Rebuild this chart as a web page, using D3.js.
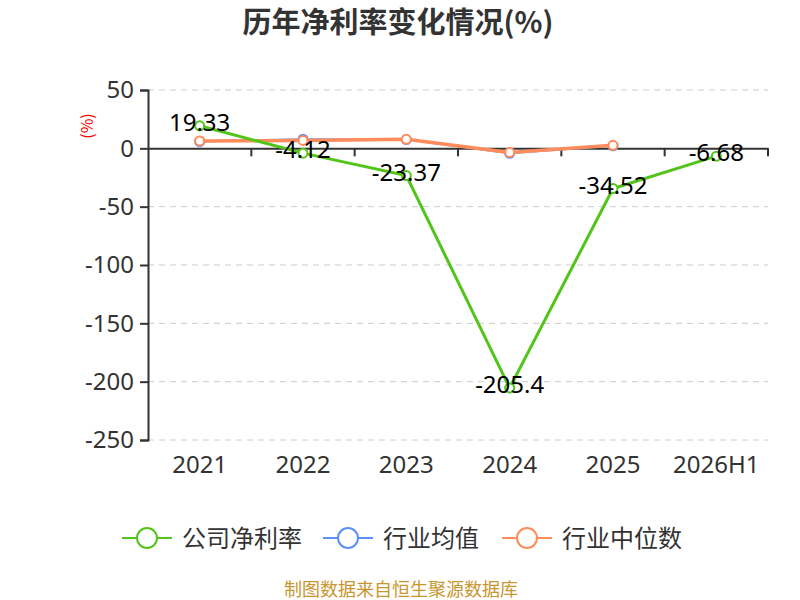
<!DOCTYPE html>
<html lang="zh">
<head>
<meta charset="utf-8">
<title>历年净利率变化情况</title>
<script src="https://d3js.org/d3.v7.min.js"></script>
<style>
  body { margin: 0; background: #fff; }
  text { font-family: "Noto Sans CJK SC", "Noto Sans", sans-serif; }
</style>
</head>
<body>
<div id="chart"></div>
<script>
// data
var years = ["2021", "2022", "2023", "2024", "2025", "2026H1"];
var company = [19.33, -4.12, -23.37, -205.4, -34.52, -6.68];
var industryAvg = [5.8, 7.8, 7.5, -4.3, 2.2, null];
var industryMedian = [6.3, 6.8, 7.7, -3.5, 2.6, null];
var yTicks = [50, 0, -50, -100, -150, -200, -250];
var seriesNames = ["公司净利率", "行业均值", "行业中位数"];
var colors = ["#52c41a", "#5b8ff9", "#ff8c5a"];

var width = 800, height = 600;
var margin = { top: 90, right: 32, bottom: 160, left: 148 };
var numFont = "'Noto Sans', sans-serif";

var svg = d3.select("#chart").append("svg")
  .attr("width", width).attr("height", height);

var x = d3.scaleBand().domain(years)
  .range([margin.left, width - margin.right]);
var y = d3.scaleLinear().domain([-250, 50])
  .range([height - margin.bottom, margin.top]);

// title
svg.append("text")
  .attr("x", 398).attr("y", 33)
  .attr("text-anchor", "middle")
  .attr("font-size", 29).attr("font-weight", "bold")
  .attr("fill", "#333")
  .text("历年净利率变化情况(%)");

// grid lines
svg.append("g").selectAll("line")
  .data(yTicks.filter(function (d) { return d !== 0; }))
  .join("line")
  .attr("x1", margin.left).attr("x2", width - margin.right)
  .attr("y1", function (d) { return y(d); })
  .attr("y2", function (d) { return y(d); })
  .attr("stroke", "#ccc").attr("stroke-dasharray", "6,5");

// y axis
var yAxis = svg.append("g")
  .attr("transform", "translate(" + margin.left + ",0)")
  .call(d3.axisLeft(y).tickValues(yTicks).tickSize(8).tickPadding(6)
    .tickFormat(function (d) { return String(d); }));
yAxis.select(".domain").attr("stroke", "#333").attr("stroke-width", 2);
yAxis.selectAll(".tick line").attr("stroke", "#333").attr("stroke-width", 2);
yAxis.selectAll("text").attr("font-size", 24).attr("fill", "#333")
  .style("font-family", numFont);

svg.append("text")
  .attr("transform", "translate(93,126) rotate(-90)")
  .attr("text-anchor", "middle")
  .attr("font-size", 16).attr("fill", "red")
  .text("(%)");

// x axis at zero
var xAxis = svg.append("g")
  .attr("transform", "translate(0," + y(0) + ")")
  .call(d3.axisBottom(x).tickSize(0).tickFormat(""));
xAxis.select(".domain").attr("stroke", "#333").attr("stroke-width", 2);
svg.append("g").selectAll("line")
  .data(years)
  .join("line")
  .attr("x1", function (d) { return x(d) + x.step(); })
  .attr("x2", function (d) { return x(d) + x.step(); })
  .attr("y1", y(0)).attr("y2", y(0) + 8)
  .attr("stroke", "#333").attr("stroke-width", 2);

svg.append("g").selectAll("text")
  .data(years)
  .join("text")
  .attr("x", function (d) { return x(d) + x.bandwidth() / 2; })
  .attr("y", 473)
  .attr("text-anchor", "middle")
  .attr("font-size", 24).attr("fill", "#333")
  .style("font-family", numFont)
  .text(function (d) { return d; });

// lines
var allSeries = [company, industryAvg, industryMedian];
var widths = [3, 2, 3.5];
var line = d3.line()
  .defined(function (d) { return d !== null; })
  .x(function (d, i) { return x(years[i]) + x.bandwidth() / 2; })
  .y(function (d) { return y(d); });

[1, 2, 0].forEach(function (s) {
  var data = allSeries[s];
  svg.append("path")
    .datum(data)
    .attr("d", line)
    .attr("fill", "none")
    .attr("stroke", colors[s])
    .attr("stroke-width", widths[s]);
  svg.append("g").selectAll("circle")
    .data(data.map(function (v, i) { return { v: v, i: i }; })
      .filter(function (d) { return d.v !== null; }))
    .join("circle")
    .attr("cx", function (d) { return x(years[d.i]) + x.bandwidth() / 2; })
    .attr("cy", function (d) { return y(d.v); })
    .attr("r", 4.5)
    .attr("fill", "#fff")
    .attr("stroke", colors[s])
    .attr("stroke-width", 2);
});

// value labels for company series
svg.append("g").selectAll("text")
  .data(company)
  .join("text")
  .attr("x", function (d, i) { return x(years[i]) + x.bandwidth() / 2; })
  .attr("y", function (d) { return y(d) + 5; })
  .attr("text-anchor", "middle")
  .attr("font-size", 24).attr("fill", "#000")
  .style("font-family", numFont)
  .text(function (d) { return d; });

// legend
var legendX = [122, 323, 502];
var legend = svg.append("g").selectAll("g")
  .data(seriesNames)
  .join("g")
  .attr("transform", function (d, i) { return "translate(" + legendX[i] + ",538)"; });
legend.append("line")
  .attr("x1", 0).attr("x2", 50).attr("y1", 0).attr("y2", 0)
  .attr("stroke", function (d, i) { return colors[i]; })
  .attr("stroke-width", 2);
legend.append("circle")
  .attr("cx", 25).attr("cy", 0).attr("r", 10)
  .attr("fill", "#fff")
  .attr("stroke", function (d, i) { return colors[i]; })
  .attr("stroke-width", 2);
legend.append("text")
  .attr("x", 60).attr("y", 9)
  .attr("font-size", 24).attr("fill", "#333")
  .text(function (d) { return d; });

// source
svg.append("text")
  .attr("x", 401).attr("y", 596)
  .attr("text-anchor", "middle")
  .attr("font-size", 18).attr("fill", "#c8962e")
  .text("制图数据来自恒生聚源数据库");
</script>
</body>
</html>
